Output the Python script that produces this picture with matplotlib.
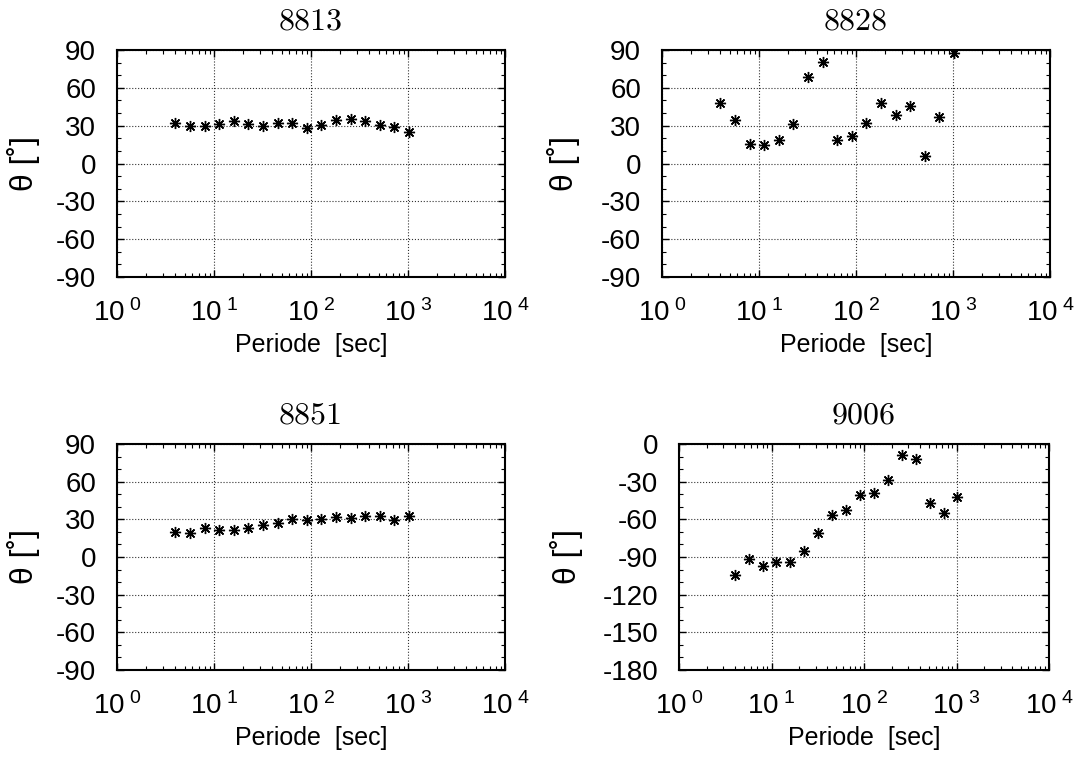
import numpy as np
import matplotlib
matplotlib.use("Agg")
import matplotlib.pyplot as plt
from matplotlib.ticker import FixedLocator, LogLocator, MultipleLocator, NullFormatter

plt.rcParams['font.family'] = ['Liberation Sans', 'DejaVu Sans']
plt.rcParams['mathtext.fontset'] = 'custom'
plt.rcParams['mathtext.rm'] = 'Liberation Sans'
plt.rcParams['mathtext.it'] = 'Liberation Sans:italic'
plt.rcParams['mathtext.bf'] = 'Liberation Sans:bold'

# Periods (s)
periods = [4.0, 5.66, 8.0, 11.3, 16.0, 22.6, 32.0, 45.3, 64.0, 90.5,
           128.0, 181.0, 256.0, 362.0, 512.0, 724.0, 1024.0]

# Strike angles per station (deg)
theta_8813 = [32.0, 29.9, 29.9, 31.0, 33.4, 31.0, 29.4, 32.0, 32.0, 27.8,
              30.7, 34.2, 35.2, 33.6, 30.7, 29.1, 24.6]
theta_8828 = [48.2, 34.1, 15.4, 14.6, 18.5, 31.5, 68.3, 80.7, 18.8, 22.0,
              31.8, 47.9, 38.1, 45.3, 5.6, 36.8, 87.9]
theta_8851 = [19.9, 19.4, 22.8, 21.8, 21.5, 23.1, 25.2, 27.4, 30.3, 29.5,
              30.0, 31.6, 31.1, 32.9, 32.9, 29.5, 32.4]
theta_9006 = [-104.6, -91.9, -96.9, -94.0, -93.7, -85.2, -71.1, -56.8, -52.6, -40.9,
              -39.0, -28.9, -9.0, -11.9, -47.0, -55.2, -42.5]

stations = ['8813', '8828', '8851', '9006']
series = [theta_8813, theta_8828, theta_8851, theta_9006]
y_ranges = [(-90, 90), (-90, 90), (-90, 90), (-180, 0)]

x_major = [1, 10, 100, 1000, 10000]
x_labels = [r'$\mathrm{10^{\ %d}}$' % i for i in range(5)]

W, H = 1080, 757
# axes boxes in pixels: left, right, top, bottom
boxes = [(117, 505, 50, 277), (662, 1050, 50, 277),
         (117, 505, 444, 670), (679, 1049, 444, 670)]
# right edge of the rotated y label, in pixels
ylabel_x = [40, 580, 40, 583]

fig = plt.figure(figsize=(W / 100, H / 100), dpi=100)

for name, vals, (y0, y1), (l, r, t, b), lx in zip(stations, series, y_ranges, boxes, ylabel_x):
    ax = fig.add_axes([l / W, 1 - b / H, (r - l) / W, (b - t) / H])
    ax.set_xscale('log')
    ax.set_xlim(1, 10000)
    ax.set_ylim(y0, y1)
    ax.plot(periods, vals, linestyle='none', marker=(8, 2, 0), markersize=8,
            markeredgewidth=1.0, color='black', zorder=3)

    ax.xaxis.set_major_locator(FixedLocator(x_major))
    ax.set_xticklabels(x_labels, fontsize=20)
    ax.xaxis.set_minor_locator(LogLocator(base=10, subs=np.arange(2, 10)))
    ax.xaxis.set_minor_formatter(NullFormatter())
    yt = np.arange(y0, y1 + 1, 30)
    ax.set_yticks(yt)
    ax.set_yticklabels([str(v) for v in yt], fontsize=20)
    ax.yaxis.set_minor_locator(MultipleLocator(10))

    ax.tick_params(which='both', direction='in', top=True, right=True)
    ax.tick_params(which='major', length=5, width=1.0)
    ax.tick_params(which='minor', length=3, width=0.8)
    ax.tick_params(axis='y', which='major', pad=15)
    ax.tick_params(axis='x', which='major', pad=16)
    for s in ax.spines.values():
        s.set_linewidth(1.5)

    ax.grid(True, which='major', linestyle=':', color='#333333', linewidth=0.8)

    ax.set_title(name, family='cmr10', fontsize=23, pad=15)
    ax.set_xlabel('Periode  [sec]', fontsize=18, labelpad=4)
    ax.set_ylabel('θ [˚]', fontsize=23)
    ax.yaxis.set_label_coords(lx / W, 1 - (t + b) / 2 / H, transform=fig.transFigure)

fig.savefig('out.png', dpi=100)
